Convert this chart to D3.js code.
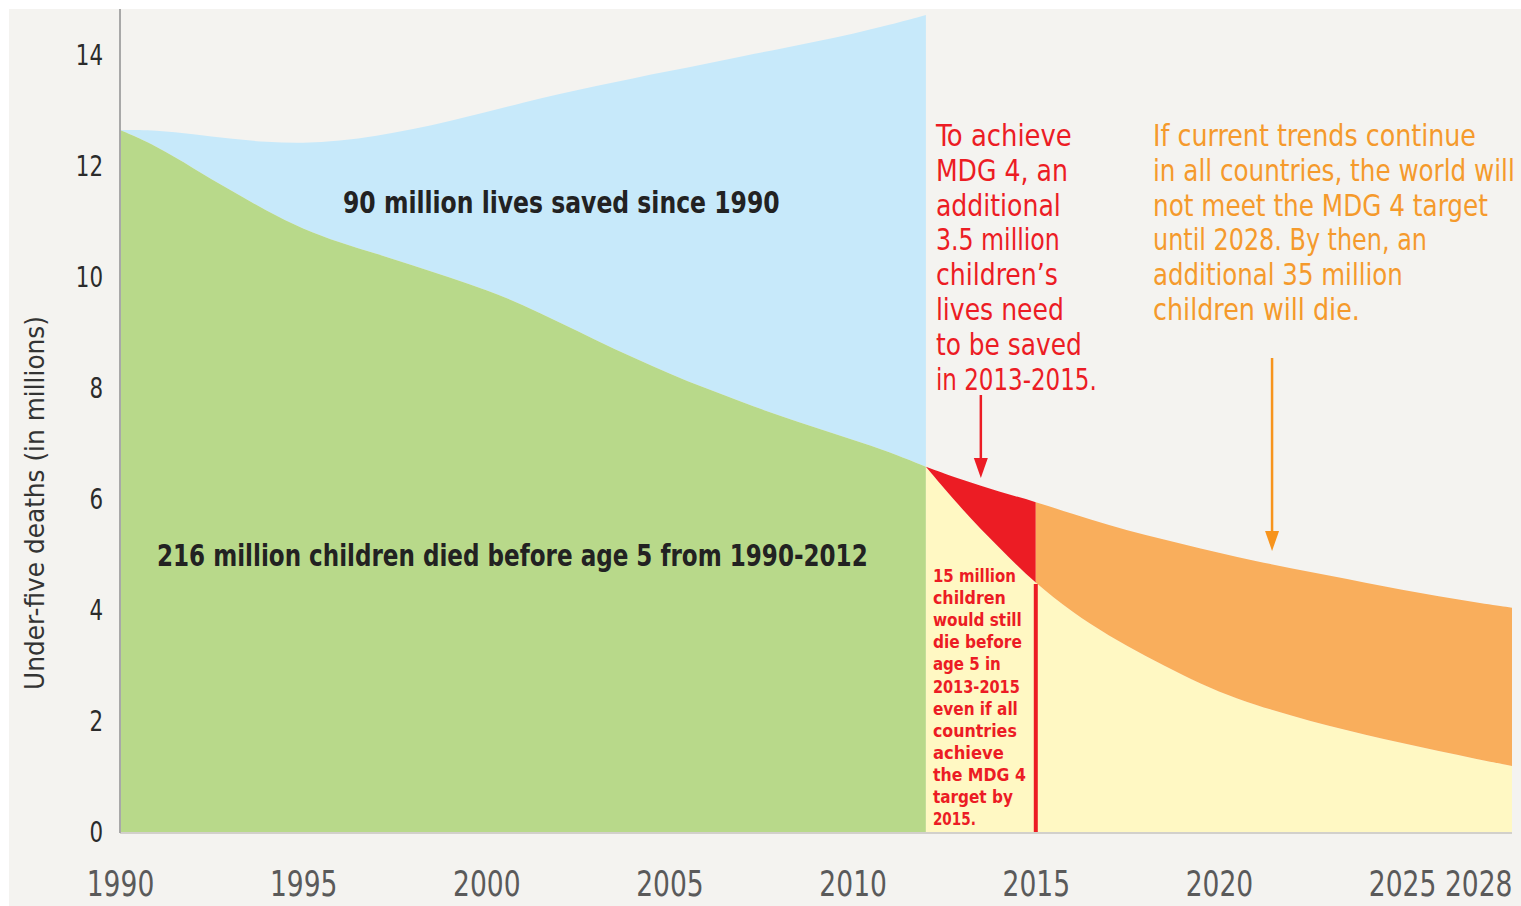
<!DOCTYPE html>
<html>
<head>
<meta charset="utf-8">
<script src="https://cdn.jsdelivr.net/npm/d3@7"></script>
<style>
  html, body { margin: 0; padding: 0; background: #ffffff; }
  svg { display: block; }
</style>
</head>
<body>
<svg id="chart" width="1521" height="906"></svg>
<script>
// ---------- DATA ----------
const histYears = [1990,1991,1992,1993,1994,1995,1996,1997,1998,1999,2000,2001,2002,2003,2004,2005,2006,2007,2008,2009,2010,2011,2012];
const actualDeaths = [12.65,12.36,11.96,11.57,11.19,10.86,10.62,10.42,10.21,9.99,9.77,9.50,9.18,8.86,8.55,8.26,7.99,7.74,7.50,7.28,7.07,6.85,6.58];
const noProgressDeaths = [12.65,12.65,12.57,12.49,12.43,12.41,12.45,12.54,12.66,12.81,12.97,13.14,13.30,13.44,13.58,13.71,13.84,13.98,14.11,14.24,14.38,14.54,14.72];

const projYears = [2012,2013,2014,2015,2016,2017,2018,2019,2020,2021,2022,2023,2024,2025,2026,2027,2028];
const currentTrendDeaths = [6.58,6.34,6.13,5.95,5.73,5.53,5.35,5.19,5.03,4.88,4.75,4.62,4.49,4.36,4.25,4.14,4.04];
const mdgTargetDeaths = [6.58,5.80,5.12,4.47,3.96,3.53,3.17,2.83,2.52,2.29,2.09,1.91,1.75,1.60,1.46,1.32,1.19];

const yTicks = [0,2,4,6,8,10,12,14];
const xTicks = [1990,1995,2000,2005,2010,2015,2020,2025,2028];
const yTitle = "Under-five deaths (in millions)";

const labelSaved = "90 million lives saved since 1990";
const labelDied = "216 million children died before age 5 from 1990-2012";
const redNote = ["To achieve","MDG 4, an","additional","3.5 million","children\u2019s","lives need","to be saved","in 2013-2015."];
const orangeNote = ["If current trends continue","in all countries, the world will","not meet the MDG 4 target","until 2028. By then, an","additional 35 million","children will die."];
const smallNote = ["15 million","children","would still","die before","age 5 in","2013-2015","even if all","countries","achieve","the MDG 4","target by","2015."];

// ---------- LAYOUT (text widths matched to the reference's condensed face) ----------
const redNoteWidths = [136,132,125,124,122,128,146,161];
const orangeNoteWidths = [323,362,335,274,250,207];
const smallNoteWidths = [83,73,89,89,68,87,85,84,71,93,80,43];

// ---------- SETUP ----------
const W = 1521, H = 906;
const FONT = "'Liberation Sans Narrow','DejaVu Sans Condensed','Arial Narrow',sans-serif";
const COL = {
  bg: "#f4f3f0", blue: "#c7e9fa", green: "#b8d98a", yellow: "#fff8c3",
  red: "#ec1c24", orange: "#f9ae5c", redText: "#ec1c24", orangeText: "#f59a2c",
  axis: "#a8a8a8", ytext: "#2b2b2b", xtext: "#5a5a5a", dark: "#222222"
};

// horizontally compress a text (about its own anchor x) so its width = natural * factor
function scaleTextX(node, factor) {
  const sel = d3.select(node);
  const x0 = +(sel.attr("x") || 0);
  const y0 = sel.attr("y");
  sel.attr("x", x0 / factor).attr("transform", `scale(${factor},1)`);
  if (y0 !== null) sel.attr("y", y0);
}
function squeeze(sel, factor) { sel.each(function() { scaleTextX(this, factor); }); }
function fitWidth(node, width) {
  const L = node.getComputedTextLength();
  scaleTextX(node, width / L);
}

const svg = d3.select("#chart");
const plot = {left: 120, right: 1512, top: 9, bottom: 832};

const x = d3.scaleLinear().domain([1990, 2028]).range([plot.left, plot.right]);
const y = d3.scaleLinear().domain([0, (plot.bottom - plot.top) / 55.5]).range([plot.bottom, plot.top]);

svg.append("rect").attr("x", 9).attr("y", 9).attr("width", W - 9).attr("height", H - 9).attr("fill", COL.bg);

const defs = svg.append("defs");
defs.append("clipPath").attr("id", "clipRed").append("rect")
  .attr("x", x(2012) - 1).attr("y", 0).attr("width", x(2015) - x(2012) + 1).attr("height", H);
defs.append("clipPath").attr("id", "clipOrange").append("rect")
  .attr("x", x(2015)).attr("y", 0).attr("width", x(2028) - x(2015)).attr("height", H);

const hist = histYears.map((yr, i) => ({yr, a: actualDeaths[i], n: noProgressDeaths[i]}));
const proj = projYears.map((yr, i) => ({yr, t: currentTrendDeaths[i], m: mdgTargetDeaths[i]}));
const curve = d3.curveBasis;

// blue: lives saved
svg.append("path").datum(hist)
  .attr("d", d3.area().curve(curve).x(d => x(d.yr)).y0(d => y(d.a)).y1(d => y(d.n)))
  .attr("fill", COL.blue);
// green: actual deaths
svg.append("path").datum(hist)
  .attr("d", d3.area().curve(curve).x(d => x(d.yr)).y0(y(0)).y1(d => y(d.a)))
  .attr("fill", COL.green);
// yellow: deaths under MDG target
svg.append("path").datum(proj)
  .attr("d", d3.area().curve(curve).x(d => x(d.yr)).y0(y(0)).y1(d => y(d.m)))
  .attr("fill", COL.yellow);
// gap between current trend and target: red until 2015, orange after
const gapArea = d3.area().curve(curve).x(d => x(d.yr)).y0(d => y(d.m)).y1(d => y(d.t));
svg.append("path").datum(proj).attr("d", gapArea).attr("fill", COL.red).attr("clip-path", "url(#clipRed)");
svg.append("path").datum(proj).attr("d", gapArea).attr("fill", COL.orange).attr("clip-path", "url(#clipOrange)");

// red vertical line at 2015
const d2015 = proj.find(d => d.yr === 2015);
svg.append("line")
  .attr("x1", x(2015)).attr("x2", x(2015))
  .attr("y1", y(d2015.m)).attr("y2", y(0))
  .attr("stroke", COL.red).attr("stroke-width", 4);

// axis lines
svg.append("line").attr("x1", plot.left).attr("x2", plot.right).attr("y1", y(0) + 1).attr("y2", y(0) + 1)
  .attr("stroke", "#d2d0cb").attr("stroke-width", 2);
svg.append("line").attr("x1", plot.left).attr("x2", plot.left).attr("y1", plot.top).attr("y2", y(0) + 1)
  .attr("stroke", COL.axis).attr("stroke-width", 2);

// y axis
const yAxis = svg.append("g").attr("transform", `translate(${plot.left},0)`)
  .call(d3.axisLeft(y).tickValues(yTicks).tickSize(0).tickPadding(17).tickFormat(d3.format("d")));
yAxis.select(".domain").remove();
yAxis.selectAll("text").attr("font-family", FONT).attr("font-size", 29).attr("fill", COL.ytext);
squeeze(yAxis.selectAll("text"), 0.82);

// x axis
const xAxis = svg.append("g").attr("transform", `translate(0,${y(0)})`)
  .call(d3.axisBottom(x).tickValues(xTicks).tickSize(0).tickPadding(38).tickFormat(d3.format("d")));
xAxis.select(".domain").remove();
xAxis.selectAll("text").attr("font-family", FONT).attr("font-size", 36).attr("fill", COL.xtext);
xAxis.selectAll(".tick").filter(d => d === 2028).select("text").attr("text-anchor", "end").attr("x", 0);
squeeze(xAxis.selectAll("text"), 0.82);

// y title
const yt = svg.append("g").attr("transform", `translate(44,503) rotate(-90)`)
  .append("text")
  .attr("text-anchor", "middle")
  .attr("font-family", FONT).attr("font-size", 27).attr("fill", "#333")
  .text(yTitle);
fitWidth(yt.node(), 374);

// main labels
function placeText(parent, xv, yv, str, width) {
  const g = parent.append("g").attr("transform", `translate(${xv},${yv})`);
  const t = g.append("text").attr("x", 0).attr("y", 0).text(str);
  fitWidth(t.node(), width);
  return t;
}
const mainG = svg.append("g").attr("font-family", FONT).attr("font-weight", "bold").attr("font-size", 31).attr("fill", COL.dark);
placeText(mainG, 343, 213, labelSaved, 437);
placeText(mainG, 157, 566, labelDied, 711);

// red note
const redG = svg.append("g").attr("font-family", FONT).attr("font-size", 30).attr("fill", COL.redText);
redNote.forEach((t, i) => placeText(redG, x(2012) + 10, 146 + i * 34.8, t, redNoteWidths[i]));
// orange note
const orG = svg.append("g").attr("font-family", FONT).attr("font-size", 30).attr("fill", COL.orangeText);
orangeNote.forEach((t, i) => placeText(orG, 1153, 146 + i * 34.8, t, orangeNoteWidths[i]));
// small red note
const smG = svg.append("g").attr("font-family", FONT).attr("font-weight", "bold").attr("font-size", 18.5).attr("fill", COL.redText);
smallNote.forEach((t, i) => placeText(smG, x(2012) + 7, 582 + i * 22.1, t, smallNoteWidths[i]));

// arrows
function arrow(xv, y1, y2, color) {
  svg.append("line").attr("x1", xv).attr("x2", xv).attr("y1", y1).attr("y2", y2 - 14)
    .attr("stroke", color).attr("stroke-width", 2.5);
  svg.append("path")
    .attr("d", `M${xv - 7},${y2 - 20} L${xv + 7},${y2 - 20} L${xv},${y2} Z`)
    .attr("fill", color);
}
arrow(x(2013.5), 395, 478, COL.red);
arrow(x(2021.45), 358, 551, "#f7941d");
</script>
</body>
</html>
